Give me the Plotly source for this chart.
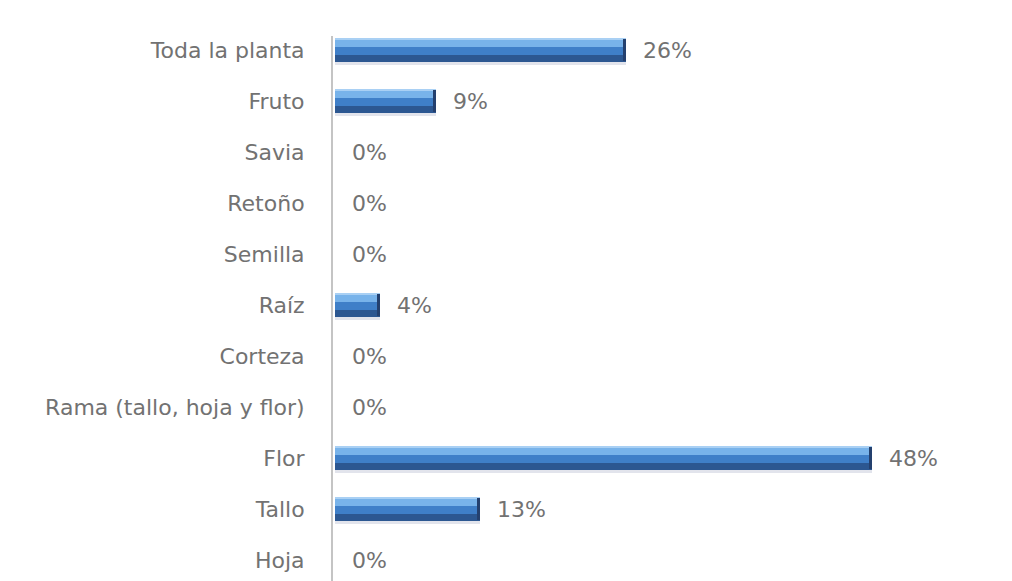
import plotly.graph_objects as go

# Parts of the plant used, share of mentions (%)
categories = ["Toda la planta", "Fruto", "Savia", "Retoño", "Semilla", "Raíz",
              "Corteza", "Rama (tallo, hoja y flor)", "Flor", "Tallo", "Hoja"]
values = [26, 9, 0, 0, 0, 4, 0, 0, 48, 13, 0]
value_labels = ["26%", "9%", "0%", "0%", "0%", "4%", "0%", "0%", "48%", "13%", "0%"]

positions = list(range(len(categories)))
PX = 51.0  # pixels per category slot
FONT = "DejaVu Sans, sans-serif"

fig = go.Figure()

# Bar drawn as stacked horizontal bands to give a shaded, rounded look
bands = [
    # (top px, bottom px relative to centre, colour)
    (12, 15, "#e2e4ec"),   # soft shadow under the bar
    (-12, 12, "#2c5791"),  # dark base
    (-12, 5, "#3f7fc8"),   # mid tone
    (-11, -3, "#78b3ea"),  # light band
    (-12, -10, "#a9d0f4"),  # top highlight
]
for top, bottom, color in bands:
    fig.add_trace(go.Bar(
        x=values, y=positions, orientation="h",
        width=(bottom - top) / PX, offset=top / PX,
        marker=dict(color=color, line=dict(width=0)),
        hoverinfo="skip", showlegend=False,
    ))

# Darker right end cap on non-empty bars
cap = [0.28 if v > 0 else 0 for v in values]
fig.add_trace(go.Bar(
    x=cap, y=positions, base=[v - c for v, c in zip(values, cap)], orientation="h",
    width=22 / PX, offset=-11 / PX,
    marker=dict(color="#24406e", line=dict(width=0)),
    hoverinfo="skip", showlegend=False,
))

for v, p, t in zip(values, positions, value_labels):
    fig.add_annotation(x=v, y=p, text=t, showarrow=False, xanchor="left",
                       yanchor="middle", xshift=15,
                       font=dict(family=FONT, size=22, color="#727272"))

fig.update_layout(
    width=1012, height=581,
    margin=dict(l=333, r=0, t=36, b=0),
    paper_bgcolor="white", plot_bgcolor="white",
    barmode="overlay", bargap=0,
    font=dict(family=FONT, size=22, color="#727272"),
)
fig.update_xaxes(range=[-0.18, 60.5], showgrid=False, zeroline=False,
                 showticklabels=False, showline=False)
fig.update_yaxes(range=[10.41, -0.275], tickvals=positions, ticktext=categories,
                 showgrid=False, zeroline=False, showline=True,
                 linecolor="#c4c4c4", linewidth=2, ticks="", ticklabelstandoff=22,
                 automargin=False)

fig.write_html("out.html")
